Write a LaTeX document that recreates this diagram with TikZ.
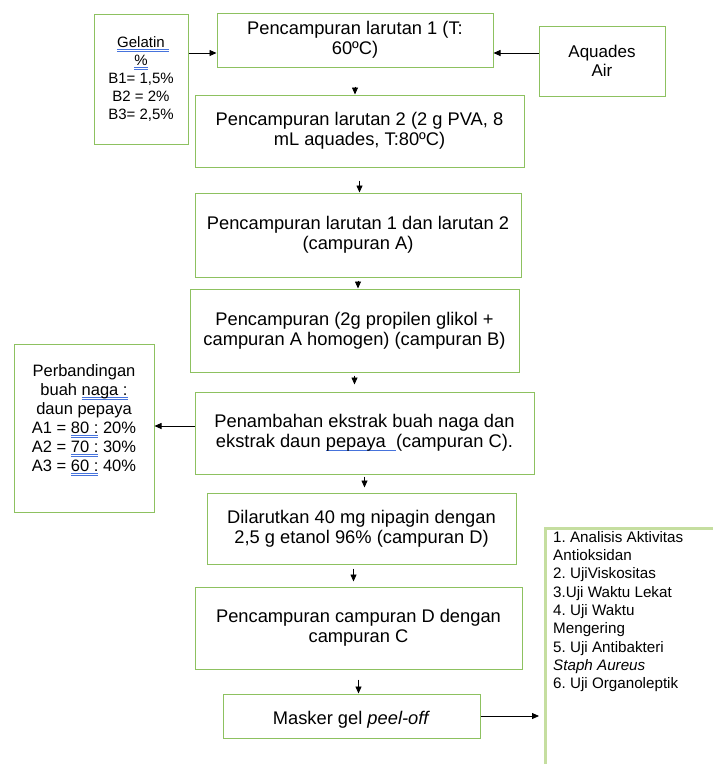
\documentclass[tikz,border=0pt]{standalone}
\usepackage{fontspec}
\setmainfont{Liberation Sans}
\usetikzlibrary{arrows.meta}
\definecolor{boxgreen}{RGB}{141,193,96}
\definecolor{palegreen}{RGB}{197,222,160}
\definecolor{markblue}{RGB}{70,115,220}
\frenchspacing
\newlength\markwd
% Word spell-check marks (double) and grammar mark (single)
\newcommand\spellmark[1]{\settowidth\markwd{#1}\rlap{\color{markblue}\rule[-2.4pt]{\markwd}{0.6pt}\hspace{-\markwd}\rule[-4pt]{\markwd}{0.6pt}}#1}
\newcommand\grammark[1]{\settowidth\markwd{#1}\rlap{\color{markblue}\rule[-3pt]{\markwd}{0.7pt}}#1}
\tikzset{
  stepbox/.style={draw=boxgreen, line width=1pt, align=center, inner sep=0pt,
    font=\fontsize{18.3}{20}\selectfont},
  mainbox/.style={stepbox, execute at begin node={\rule{0pt}{21pt}}},
  sidebox/.style={stepbox, font=\fontsize{15}{18}\selectfont},
  flow/.style={->, line width=0.8pt},
}
\begin{document}
\begin{tikzpicture}[x=1pt,y=-1pt,>={Triangle[length=7pt,width=6pt]}]
\useasboundingbox (0,0) rectangle (713,764);
% main column
\node[mainbox, minimum width=276pt, minimum height=54pt] (b1) at (355,40) {Pencampuran larutan 1 (T:\\60ºC)};
\node[mainbox, minimum width=329pt, minimum height=72pt] (b2) at (359.5,131) {Pencampuran larutan 2 (2 g PVA, 8\\mL aquades, T:80ºC)};
\node[mainbox, minimum width=326pt, minimum height=84pt] (b3) at (358,235) {Pencampuran larutan 1 dan larutan 2\\(campuran A)};
\node[mainbox, minimum width=329pt, minimum height=83pt] (b4) at (354.5,330.5) {Pencampuran (2g propilen glikol +\\campuran A homogen) (campuran B)};
\node[mainbox, minimum width=339pt, minimum height=82pt] (b5) at (364.5,433) {Penambahan ekstrak buah naga dan\\ekstrak daun \grammark{pepaya\ \ }(campuran C).};
\node[mainbox, minimum width=309pt, minimum height=71pt] (b6) at (361.5,528.5) {Dilarutkan 40 mg nipagin dengan\\2,5 g etanol 96\% (campuran D)};
\node[mainbox, minimum width=327pt, minimum height=82pt] (b7) at (358.5,628) {Pencampuran campuran D dengan\\campuran C};
\node[mainbox, minimum width=257pt, minimum height=44pt] (b8) at (351.5,716) {Masker gel \textit{peel-off}};
% side boxes
\node[sidebox, minimum width=94pt, minimum height=130pt] (gel) at (141,79) {\spellmark{Gelatin\ }\\\spellmark{\%}\\B1= 1,5\%\\B2 = 2\%\\B3= 2,5\%};
\node[mainbox, minimum width=126pt, minimum height=70pt, font=\fontsize{17}{19}\selectfont] (aq) at (602,61) {Aquades\\Air};
\node[stepbox, minimum width=140pt, minimum height=168pt, font=\fontsize{16.5}{19}\selectfont] (perb) at (84,428) {Perbandingan\\buah \spellmark{naga :}\\daun pepaya\\A1 = \spellmark{80 :} 20\%\\A2 = \spellmark{70 :} 30\%\\A3 = \spellmark{60 :} 40\%\\[1pt]};
% results box, cut by the page edge
\coordinate (res) at (545,528);
\draw[palegreen, line width=3pt] (713,528) -- (res) -- (545,764);
\node[anchor=north west, align=left, inner sep=0pt, font=\fontsize{15.2}{18.3}\selectfont] (uji) at (553,531)
  {1. Analisis Aktivitas\\Antioksidan\\2. UjiViskositas\\3.Uji Waktu Lekat\\4. Uji Waktu\\Mengering\\5. Uji Antibakteri\\\textit{Staph Aureus}\\6. Uji Organoleptik};
% arrows
\draw[flow] ([yshift=-13pt]b1.west -| gel.east) -- ([yshift=-13pt]b1.west);
\draw[flow] ([yshift=-13pt]b1.east -| aq.west) -- ([yshift=-13pt]b1.east);
\draw[flow, shorten <=19pt] (b1.south) -- (b1.south |- b2.north);
\draw[flow, shorten <=13pt] (b2.south) -- (b2.south |- b3.north);
\draw[flow, shorten <=3pt] (b3.south) -- (b3.south |- b4.north);
\draw[flow, shorten <=3pt, shorten >=7pt] (b4.south) -- (b4.south |- b5.north);
\draw[flow, shorten <=2pt, shorten >=5pt] (b5.south) -- (b5.south |- b6.north);
\draw[flow, shorten <=4pt, shorten >=5pt] ([xshift=-8pt]b6.south) -- ([xshift=-8pt]b6.south |- b7.north);
\draw[flow, shorten <=10pt] (b7.south) -- (b7.south |- b8.north);
\draw[flow] ([yshift=7pt]b5.west) -- ([yshift=7pt]b5.west -| perb.east);
\draw[flow, shorten >=6pt] (b8.east) -- (b8.east -| res);
\end{tikzpicture}
\end{document}
